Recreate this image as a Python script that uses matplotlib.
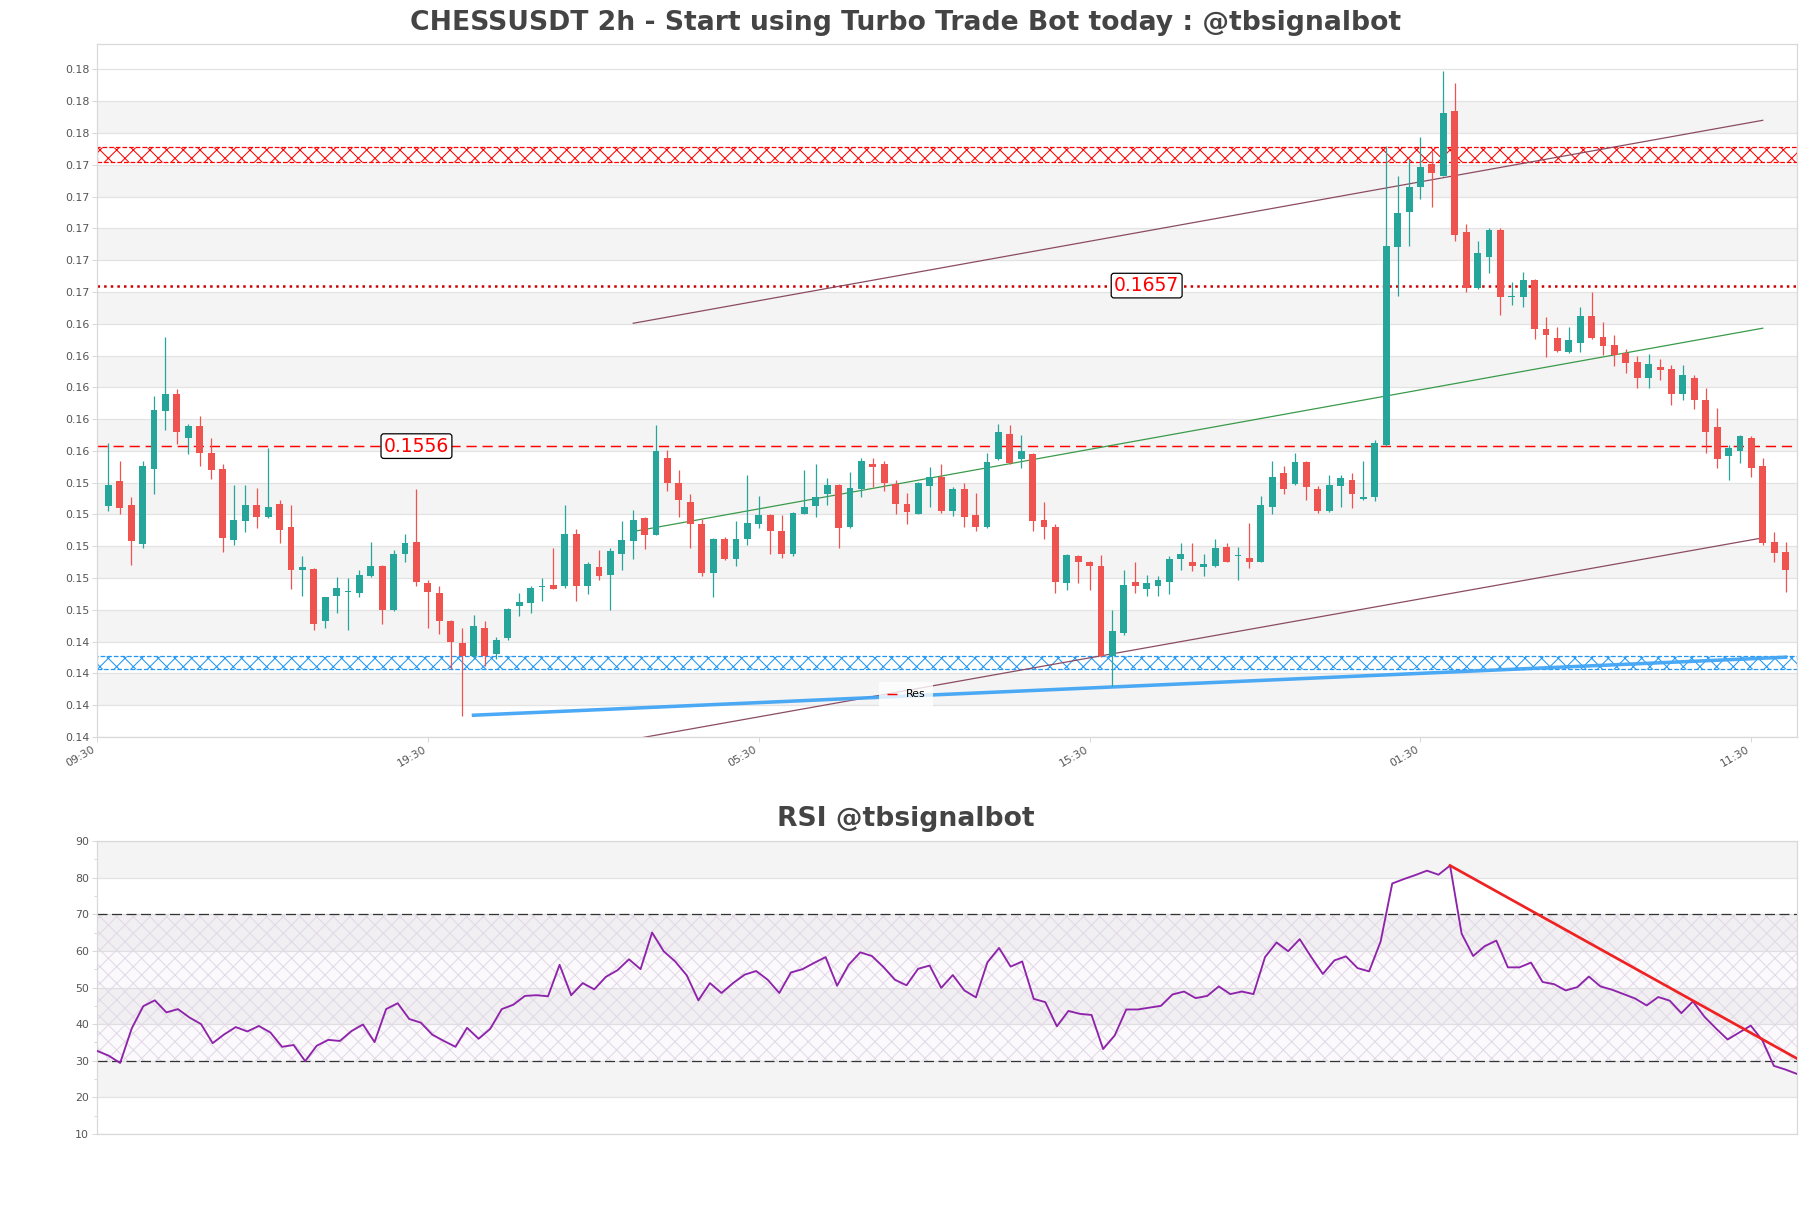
"""
CHESSUSDT 2h candles with support / resistance levels and an RSI panel
"""
import matplotlib.pyplot as plt
from matplotlib.ticker import FixedLocator, MultipleLocator, FuncFormatter

# candle data, one value per 2h bar
opens = [0.15186, 0.15342, 0.15189, 0.14947, 0.15415, 0.15778, 0.15889, 0.15614, 0.15688, 0.15518,
         0.15415, 0.14970, 0.15092, 0.15189, 0.15117, 0.15197, 0.15052, 0.14778, 0.14788, 0.14457,
         0.14614, 0.14643, 0.14633, 0.14746, 0.14807, 0.14526, 0.14884, 0.14958, 0.14700, 0.14637,
         0.14461, 0.14322, 0.14239, 0.14417, 0.14255, 0.14356, 0.14557, 0.14576, 0.14675, 0.14685,
         0.14677, 0.15008, 0.14677, 0.14798, 0.14752, 0.14884, 0.14966, 0.15109, 0.15004, 0.15486,
         0.15327, 0.15209, 0.15071, 0.14763, 0.14977, 0.14847, 0.14973, 0.15073, 0.15128, 0.15027,
         0.14884, 0.15136, 0.15186, 0.15260, 0.15314, 0.15052, 0.15293, 0.15449, 0.15449, 0.15319,
         0.15197, 0.15136, 0.15312, 0.15367, 0.15155, 0.15293, 0.15126, 0.15052, 0.15482, 0.15637,
         0.15476, 0.15509, 0.15094, 0.15052, 0.14696, 0.14868, 0.14834, 0.14807, 0.14241, 0.14383,
         0.14708, 0.14660, 0.14677, 0.14708, 0.14851, 0.14834, 0.14798, 0.14803, 0.14924, 0.14866,
         0.14855, 0.14834, 0.15174, 0.15390, 0.15321, 0.15461, 0.15289, 0.15155, 0.15312, 0.15348,
         0.15226, 0.15237, 0.15568, 0.16815, 0.17035, 0.17188, 0.17335, 0.17262, 0.17669, 0.16905,
         0.16553, 0.16752, 0.16920, 0.16496, 0.16501, 0.16606, 0.16295, 0.16239, 0.16155, 0.16211,
         0.16379, 0.16245, 0.16197, 0.16148, 0.16090, 0.15991, 0.16060, 0.16046, 0.15889, 0.15987,
         0.15851, 0.15683, 0.15495, 0.15532, 0.15612, 0.15436, 0.14958, 0.14891]
highs = [0.15579, 0.15467, 0.15239, 0.15467, 0.15876, 0.16245, 0.15920, 0.15702, 0.15751, 0.15610,
         0.15446, 0.15314, 0.15314, 0.15295, 0.15547, 0.15222, 0.15189, 0.14870, 0.14795, 0.14612,
         0.14738, 0.14731, 0.14780, 0.14958, 0.14815, 0.14908, 0.15008, 0.15291, 0.14717, 0.14679,
         0.14468, 0.14417, 0.14497, 0.14461, 0.14360, 0.14540, 0.14637, 0.14683, 0.14731, 0.14920,
         0.15189, 0.15040, 0.14834, 0.14908, 0.14918, 0.15088, 0.15159, 0.15115, 0.15690, 0.15537,
         0.15411, 0.15260, 0.15100, 0.14982, 0.14991, 0.15090, 0.15379, 0.15247, 0.15133, 0.15128,
         0.15147, 0.15411, 0.15449, 0.15360, 0.15319, 0.15398, 0.15484, 0.15484, 0.15467, 0.15348,
         0.15264, 0.15335, 0.15428, 0.15446, 0.15306, 0.15327, 0.15264, 0.15516, 0.15700, 0.15690,
         0.15631, 0.15516, 0.15207, 0.15071, 0.14884, 0.14873, 0.14839, 0.14872, 0.14530, 0.14780,
         0.14834, 0.14750, 0.14746, 0.14870, 0.14949, 0.14949, 0.14882, 0.14977, 0.14949, 0.14928,
         0.15075, 0.15247, 0.15467, 0.15436, 0.15518, 0.15467, 0.15310, 0.15377, 0.15377, 0.15390,
         0.15467, 0.15600, 0.17451, 0.17260, 0.17367, 0.17507, 0.17419, 0.17920, 0.17845, 0.16958,
         0.16853, 0.16935, 0.16931, 0.16595, 0.16656, 0.16609, 0.16375, 0.16308, 0.16312, 0.16438,
         0.16530, 0.16343, 0.16260, 0.16169, 0.16127, 0.16140, 0.16109, 0.16071, 0.16071, 0.16008,
         0.15925, 0.15799, 0.15568, 0.15631, 0.15621, 0.15488, 0.15021, 0.14958]
lows = [0.15155, 0.15136, 0.14815, 0.14916, 0.15256, 0.15662, 0.15574, 0.15511, 0.15432, 0.15356,
        0.14895, 0.14935, 0.15017, 0.15048, 0.15105, 0.14952, 0.14664, 0.14614, 0.14406, 0.14413,
        0.14507, 0.14406, 0.14612, 0.14735, 0.14444, 0.14520, 0.14828, 0.14683, 0.14413, 0.14375,
        0.14157, 0.13865, 0.14220, 0.14174, 0.14220, 0.14339, 0.14492, 0.14509, 0.14585, 0.14660,
        0.14670, 0.14585, 0.14627, 0.14719, 0.14526, 0.14782, 0.14851, 0.14914, 0.14998, 0.15275,
        0.15117, 0.14922, 0.14746, 0.14608, 0.14842, 0.14803, 0.14935, 0.15048, 0.14880, 0.14855,
        0.14870, 0.15130, 0.15117, 0.15191, 0.14916, 0.15047, 0.15243, 0.15300, 0.15277, 0.15136,
        0.15073, 0.15132, 0.15174, 0.15142, 0.15121, 0.15054, 0.15023, 0.15048, 0.15474, 0.15450,
        0.15423, 0.15023, 0.14975, 0.14635, 0.14656, 0.14696, 0.14656, 0.14236, 0.14054, 0.14371,
        0.14635, 0.14614, 0.14614, 0.14629, 0.14782, 0.14773, 0.14746, 0.14798, 0.14830, 0.14715,
        0.14796, 0.14830, 0.15136, 0.15258, 0.15314, 0.15222, 0.15142, 0.15147, 0.15174, 0.15168,
        0.15222, 0.15216, 0.15558, 0.16505, 0.16822, 0.17113, 0.17063, 0.17260, 0.16853, 0.16532,
        0.16550, 0.16647, 0.16383, 0.16446, 0.16436, 0.16236, 0.16119, 0.16155, 0.16144, 0.16155,
        0.16236, 0.16134, 0.16064, 0.16018, 0.15924, 0.15924, 0.15976, 0.15820, 0.15851, 0.15795,
        0.15516, 0.15425, 0.15344, 0.15457, 0.15363, 0.14935, 0.14828, 0.14645]
closes = [0.15314, 0.15168, 0.14966, 0.15434, 0.15786, 0.15889, 0.15646, 0.15688, 0.15514, 0.15407,
          0.14985, 0.15094, 0.15189, 0.15117, 0.15178, 0.15035, 0.14778, 0.14798, 0.14444, 0.14612,
          0.14668, 0.14650, 0.14750, 0.14807, 0.14526, 0.14882, 0.14952, 0.14708, 0.14645, 0.14457,
          0.14325, 0.14239, 0.14429, 0.14239, 0.14339, 0.14536, 0.14578, 0.14668, 0.14681, 0.14664,
          0.15008, 0.14677, 0.14819, 0.14740, 0.14901, 0.14970, 0.15096, 0.15004, 0.15532, 0.15327,
          0.15224, 0.15073, 0.14763, 0.14977, 0.14847, 0.14977, 0.15077, 0.15128, 0.15023, 0.14884,
          0.15142, 0.15178, 0.15241, 0.15314, 0.15048, 0.15298, 0.15467, 0.15428, 0.15325, 0.15193,
          0.15144, 0.15331, 0.15363, 0.15153, 0.15289, 0.15117, 0.15054, 0.15461, 0.15652, 0.15455,
          0.15532, 0.15088, 0.15054, 0.14708, 0.14872, 0.14830, 0.14805, 0.14241, 0.14398, 0.14687,
          0.14677, 0.14698, 0.14719, 0.14849, 0.14882, 0.14805, 0.14819, 0.14920, 0.14834, 0.14872,
          0.14834, 0.15189, 0.15367, 0.15291, 0.15461, 0.15306, 0.15155, 0.15314, 0.15358, 0.15258,
          0.15239, 0.15579, 0.16819, 0.17025, 0.17188, 0.17314, 0.17281, 0.17654, 0.16889, 0.16553,
          0.16773, 0.16920, 0.16501, 0.16505, 0.16606, 0.16295, 0.16257, 0.16161, 0.16228, 0.16379,
          0.16243, 0.16190, 0.16134, 0.16085, 0.15991, 0.16077, 0.16039, 0.15885, 0.16008, 0.15851,
          0.15652, 0.15480, 0.15547, 0.15621, 0.15425, 0.14952, 0.14887, 0.14778]

# RSI(14), same bars
rsi = [32.7, 31.4, 29.4, 38.8, 44.9, 46.5, 43.2, 44.1, 41.8, 40.0,
       34.8, 37.2, 39.2, 38.0, 39.5, 37.7, 33.8, 34.3, 29.9, 34.1,
       35.7, 35.4, 38.1, 39.9, 35.1, 44.1, 45.7, 41.4, 40.4, 37.1,
       35.4, 33.8, 39.0, 36.0, 38.7, 44.1, 45.3, 47.7, 47.9, 47.6,
       56.2, 47.9, 51.2, 49.5, 52.9, 54.7, 57.7, 55.0, 65.0, 59.9,
       57.1, 53.3, 46.5, 51.2, 48.5, 51.2, 53.5, 54.5, 52.1, 48.5,
       54.1, 55.0, 56.7, 58.3, 50.5, 56.2, 59.6, 58.6, 55.6, 52.1,
       50.6, 55.1, 56.0, 49.9, 53.4, 49.2, 47.3, 56.9, 60.8, 55.7,
       57.1, 46.9, 46.0, 39.4, 43.6, 42.8, 42.5, 33.2, 36.9, 44.0,
       44.0, 44.5, 45.0, 48.1, 48.9, 47.1, 47.7, 50.3, 48.2, 48.9,
       48.2, 58.3, 62.3, 59.9, 63.2, 58.3, 53.7, 57.4, 58.5, 55.3,
       54.4, 62.6, 78.4, 79.6, 80.7, 81.9, 80.8, 83.3, 64.7, 58.6,
       61.3, 62.8, 55.5, 55.5, 56.8, 51.5, 50.9, 49.2, 50.1, 53.0,
       50.3, 49.4, 48.2, 47.0, 45.1, 47.4, 46.4, 43.0, 46.2, 42.0,
       38.8, 35.8, 37.7, 39.6, 35.6, 28.6, 27.6, 26.4]

# x tick labels, one every 29 bars (58h) starting one bar before the first candle
tick_labels = ["09:30", "19:30", "05:30", "15:30", "01:30", "11:30"]
tick_every = 29

# levels
res_level = 0.1556
pivot_level = 0.1657
res_zone = (0.1735, 0.1744)
sup_zone = (0.1416, 0.1424)

# trend lines: (bar, price) end points
support_x, support_y = [32, 147], [0.13867, 0.14232]
chan_x = [46, 145]
chan_top_y = [0.16333, 0.17610]
chan_bot_y = [0.13716, 0.14983]
mid_y = [0.15023, 0.16302]

# RSI trend line
rsi_line_x, rsi_line_y = [117, 147], [83.3, 30.6]

UP = "#26a69a"
DOWN = "#ef5350"
GRID = "#e3e3e3"
BAND = "#f4f4f4"
SPINE = "#d9d9d9"
TXT = "#555555"

plt.rcParams["hatch.linewidth"] = 0.5

W, H, DPI = 1811, 1208, 150
fig = plt.figure(figsize=(W / DPI, H / DPI), dpi=DPI)
ax = fig.add_axes([97 / W, 471 / H, 1700 / W, 693 / H])
ax2 = fig.add_axes([97 / W, 74 / H, 1700 / W, 293 / H])

# ---- price panel ----
n = len(closes)
x = list(range(n))
ymin, ymax = 0.1373, 0.1809
yticks = [0.1373 + 0.002 * k for k in range(22)]

for k in range(1, 21, 2):
    ax.axhspan(yticks[k], yticks[k + 1], color=BAND, lw=0, zorder=0)
for t in yticks:
    ax.axhline(t, color=GRID, lw=0.6, zorder=0.5)

ax.axhspan(*res_zone, facecolor="none", edgecolor="red", hatch="xxx",
           ls="--", lw=0.6, zorder=1)
ax.axhspan(*sup_zone, facecolor="none", edgecolor="#2196f3", hatch="xxx",
           ls="--", lw=0.6, zorder=1)

ax.axhline(res_level, color="red", lw=0.7, dashes=(7, 4), zorder=2, label="Res")
ax.axhline(pivot_level, color="#cc0000", lw=1.2, ls=":", zorder=2)

ax.plot(chan_x, chan_top_y, color="#8b4c63", lw=0.6, zorder=2)
ax.plot(chan_x, chan_bot_y, color="#8b4c63", lw=0.6, zorder=2)
ax.plot(chan_x, mid_y, color="#3a9a4a", lw=0.6, zorder=2)
ax.plot(support_x, support_y, color="#42a5f5", lw=1.7, alpha=0.95, zorder=2)

colors = [UP if c >= o else DOWN for o, c in zip(opens, closes)]
ax.vlines(x, lows, highs, colors=colors, lw=0.6, zorder=3)
ax.bar(x, [abs(c - o) for o, c in zip(opens, closes)],
       bottom=[min(o, c) for o, c in zip(opens, closes)],
       width=0.6, color=colors, lw=0, zorder=3)

box = dict(boxstyle="round,pad=0.15", fc="white", ec="black", lw=0.6)
ax.text(27, res_level, f"{res_level:.4f}", color="red", fontsize=9,
        ha="center", va="center", bbox=box, zorder=5)
ax.text(91, pivot_level, f"{pivot_level:.4f}", color="red", fontsize=9,
        ha="center", va="center", bbox=box, zorder=5)

ax.set_xlim(-1, n)
ax.set_ylim(ymin, ymax)
ax.yaxis.set_major_locator(FixedLocator(yticks))
ax.yaxis.set_major_formatter(FuncFormatter(lambda v, p: f"{v:.2f}"))
ax.set_xticks([-1 + tick_every * k for k in range(len(tick_labels))])
ax.set_xticklabels(tick_labels, rotation=30, ha="right")
ax.tick_params(axis="both", labelsize=5.3, colors=SPINE, labelcolor=TXT,
               length=2.2, width=0.5, pad=1.5)

leg = ax.legend(loc="lower center", bbox_to_anchor=(0.476, 0.035), fontsize=5.3,
                handlelength=0.9, frameon=True, fancybox=False,
                borderpad=0.7, handletextpad=0.8)
leg.get_frame().set_edgecolor("white")
leg.get_frame().set_linewidth(0)

# ---- RSI panel ----
for lo in (20, 40, 60, 80):
    ax2.axhspan(lo, lo + 10, color=BAND, lw=0, zorder=0)
for t in range(10, 100, 10):
    ax2.axhline(t, color=GRID, lw=0.6, zorder=0.5)
ax2.axhspan(30, 70, facecolor="#9c27b0", alpha=0.025, lw=0, zorder=0.6)
ax2.axhspan(30, 70, facecolor="none", edgecolor="#e2d9e6", hatch="xxx", lw=0, zorder=0.7)
ax2.axhline(70, color="#333333", lw=0.6, dashes=(8, 3.6), zorder=2)
ax2.axhline(30, color="#333333", lw=0.6, dashes=(8, 3.6), zorder=2)

ax2.plot(range(len(rsi)), rsi, color="#8e24aa", lw=0.9, zorder=3)
ax2.plot(rsi_line_x, rsi_line_y, color="#ee2222", lw=1.3, zorder=4)

ax2.set_xlim(0, len(rsi) - 1)
ax2.set_ylim(10, 90)
ax2.yaxis.set_major_locator(MultipleLocator(10))
ax2.yaxis.set_minor_locator(MultipleLocator(5))
ax2.set_xticks([])
ax2.tick_params(axis="y", which="major", labelsize=5.3, colors=SPINE, labelcolor=TXT,
                length=2.2, width=0.5, pad=1.5)
ax2.tick_params(axis="y", which="minor", colors=SPINE, length=1.3, width=0.5)

for a in (ax, ax2):
    for s in a.spines.values():
        s.set_color(SPINE)
        s.set_linewidth(0.6)

fig.text(0.5, 1 - 23 / H, "CHESSUSDT 2h - Start using Turbo Trade Bot today : @tbsignalbot",
         ha="center", va="center", fontsize=12.8, fontweight="bold", color="#444444")
fig.text(0.5, 1 - 819 / H, "RSI @tbsignalbot",
         ha="center", va="center", fontsize=12.8, fontweight="bold", color="#444444")

fig.savefig("out.png", dpi=DPI)
